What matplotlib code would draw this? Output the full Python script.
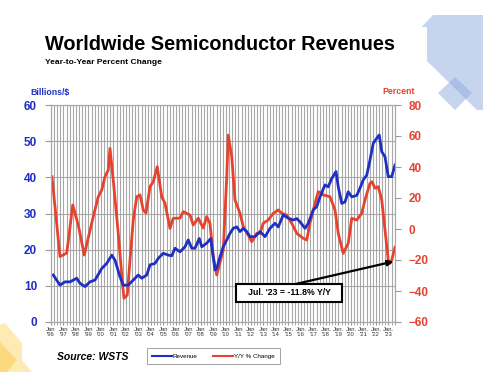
import matplotlib.pyplot as plt
import numpy as np
from matplotlib.patches import Polygon

plt.rcParams['font.family'] = ['Liberation Sans', 'DejaVu Sans']

# Revenue (left axis, billions $)
rev_t = [1996.18, 1996.72, 1997.12, 1997.52, 1998.06, 1998.32, 1998.72, 1999.12, 1999.52,
         2000.06, 2000.46, 2000.86, 2001.12, 2001.52, 2001.78, 2002.18, 2002.58, 2002.98,
         2003.26, 2003.66, 2003.92, 2004.32, 2004.58, 2004.98, 2005.38, 2005.66, 2005.92,
         2006.32, 2006.72, 2006.98, 2007.26, 2007.52, 2007.86, 2008.06, 2008.46, 2008.78,
         2009.12, 2009.26, 2009.52, 2009.78, 2010.06, 2010.32, 2010.58, 2010.86, 2011.12,
         2011.38, 2011.66, 2011.92, 2012.32, 2012.72, 2013.12, 2013.52, 2013.92, 2014.18,
         2014.58, 2014.98, 2015.38, 2015.66, 2015.92, 2016.32, 2016.58, 2016.98, 2017.26,
         2017.52, 2017.92, 2018.18, 2018.46, 2018.80, 2018.98, 2019.26, 2019.52, 2019.78,
         2020.06, 2020.46, 2020.72, 2020.98, 2021.26, 2021.52, 2021.78, 2022.06, 2022.26,
         2022.46, 2022.72, 2022.98, 2023.26, 2023.52]
rev_v = [13, 10.2, 11.1, 11.1, 12.1, 10.7, 9.8, 11.1, 11.6,
         14.8, 16.2, 18.5, 17.1, 12.5, 10.2, 10.2, 11.6, 13,
         12.1, 13, 15.8, 16.2, 17.6, 19, 18.5, 18.3, 20.4,
         19.4, 20.8, 22.7, 20.4, 20.4, 23.1, 20.8, 21.8, 23.1,
         14.4, 14.8, 18, 20.8, 22.7, 24.5, 25.9, 26.3, 25,
         25.9, 25, 23.6, 23.6, 25, 23.6, 25.9, 27.3, 26.3,
         29.6, 28.7, 28.2, 28.6, 27.7, 25.9, 27.3, 31, 31.9,
         34.6, 37.9, 37.4, 39.7, 41.6, 37.4, 32.8, 33.2, 36,
         34.6, 35, 37, 39.3, 40.6, 44.8, 49.4, 50.8, 51.7,
         47.1, 45.7, 40.2, 40.2, 43.4]

# Y/Y % change (right axis)
yoy_t = [1996.08, 1996.72, 1997.26, 1997.74, 1998.18, 1998.66, 1999.38, 1999.78, 2000.06,
         2000.32, 2000.58, 2000.72, 2000.98, 2001.38, 2001.74, 2001.84, 2002.10, 2002.32,
         2002.58, 2002.86, 2003.12, 2003.38, 2003.60, 2003.92, 2004.18, 2004.50, 2004.86,
         2005.12, 2005.52, 2005.78, 2006.32, 2006.58, 2007.12, 2007.38, 2007.78, 2008.18,
         2008.46, 2008.72, 2008.98, 2009.26, 2009.78, 2010.06, 2010.18, 2010.46, 2010.72,
         2011.12, 2011.38, 2011.78, 2012.06, 2012.46, 2012.72, 2012.98, 2013.38, 2013.78,
         2014.18, 2014.46, 2014.86, 2015.26, 2015.66, 2016.18, 2016.46, 2016.72, 2017.12,
         2017.38, 2017.78, 2018.32, 2018.72, 2018.98, 2019.38, 2019.78, 2020.06, 2020.46,
         2020.86, 2021.12, 2021.52, 2021.68, 2021.92, 2022.18, 2022.46, 2022.72, 2022.98,
         2023.12, 2023.26, 2023.52]
yoy_v = [33.7, -17.8, -15.5, 15.5, 2.6, -16.8, 8, 20.8, 25.2,
         33.8, 38, 52, 31.6, -2.8, -37, -44.7, -42.6, -20,
         5.8, 20.8, 22, 12.3, 10.3, 27.3, 30.5, 40.2, 20.8,
         16.6, 0.4, 6.9, 7, 11.2, 9, 2.6, 7, 0.6,
         8, 3.5, -17.8, -29.7, -13.5, 33.8, 60.6, 46.7, 18.7,
         10.1, 1.5, -3.9, -8.2, -2.8, -2.8, 3.7, 5.8, 10.1,
         12.3, 10.1, 9, 3.7, -2.8, -6, -7.1, 3.7, 16.6,
         24.1, 22, 20.8, 12.3, -2.8, -15.7, -9.2, 6.9, 5.8,
         10.1, 18.7, 29.5, 30.5, 26.3, 27.3, 18.7, -0.6, -20,
         -22.1, -20, -11.8]

years = list(range(1996, 2024))
year_labels = [("Jan." if y >= 2015 else "Jan") + "\n'" + str(y)[2:] for y in years]

BLUE = '#1f2fc4'
RED = '#e5432f'
W, H = 497, 380

fig = plt.figure(figsize=(W / 100, H / 100), dpi=100)

# background decorations
bg = fig.add_axes([0, 0, 1, 1], zorder=-5)
bg.set_xlim(0, W)
bg.set_ylim(H, 0)
bg.axis('off')
bg.add_patch(Polygon([(421.5, 27), (433, 15), (483, 15), (483, 110), (477, 110), (427, 61), (427, 27)],
                     closed=True, fc='#8faadf', alpha=0.5, ec='none'))
bg.add_patch(Polygon([(455, 77), (472, 93), (455, 110), (438, 93)], closed=True,
                     fc='#8faadf', alpha=0.5, ec='none'))
bg.add_patch(Polygon([(0, 325), (5, 323), (22, 343), (22, 360), (32, 372), (0, 372)],
                     closed=True, fc='#fde7a0', alpha=0.8, ec='none'))
bg.add_patch(Polygon([(0, 342), (17, 360), (7, 372), (0, 372)], closed=True,
                     fc='#fbd46a', alpha=0.7, ec='none'))

ax = fig.add_axes([51 / W, 1 - 322 / H, 344 / W, 217 / H])
ax2 = ax.twinx()

ax.set_xlim(1996, 2023.52)
ax.set_ylim(0, 60)
ax2.set_ylim(-60, 80)

# both lines on the lower axes so the grid stays underneath
ax.plot(yoy_t, yoy_v, color=RED, lw=2.0, label='Y/Y % Change', zorder=2,
        transform=ax2.transData)
ax.plot(rev_t, rev_v, color=BLUE, lw=2.0, label='Revenue', zorder=3)
ax.set_axisbelow(True)

ax.set_xticks(years)
ax.set_xticklabels(year_labels, fontsize=4.2, color='#333333', linespacing=1.1)
ax.set_xticks(np.arange(1996, 2023.6, 0.25), minor=True)
ax.grid(True, which='both', axis='x', color='#a8a8a8', lw=0.8)
ax.grid(True, which='major', axis='y', color='#a8a8a8', lw=0.8)
ax.tick_params(axis='x', which='both', length=2, color='#999999', pad=1.5)
ax.set_yticks(range(0, 61, 10))
ax.tick_params(axis='y', length=4, color='#999999', labelsize=8.5, labelcolor=BLUE, pad=6)
for lab in ax.get_yticklabels():
    lab.set_fontweight('bold')
ax2.set_yticks(range(-60, 81, 20))
ax2.tick_params(axis='y', length=4, color='#999999', labelsize=8.5, labelcolor=RED, pad=6)
for lab in ax2.get_yticklabels():
    lab.set_fontweight('bold')
for a in (ax, ax2):
    for s in a.spines.values():
        s.set_color('#a8a8a8')
        s.set_linewidth(0.8)

ax2.annotate('', xy=(2023.38, -21), xycoords='data',
             xytext=(0.703, 0.172), textcoords='axes fraction',
             arrowprops=dict(arrowstyle='-|>', color='black', lw=1.6, mutation_scale=8,
                             shrinkA=0, shrinkB=0))
ax2.text(0.692, 0.134, "   Jul. '23 = -11.8% Y/Y   ", transform=ax2.transAxes,
         ha='center', va='center', fontsize=6.3, fontweight='bold', zorder=5,
         bbox=dict(boxstyle='square,pad=0.55', fc='white', ec='black', lw=1.5))

fig.text(45 / W, 1 - 45 / H, 'Worldwide Semiconductor Revenues', fontsize=14.3,
         fontweight='bold', va='center', ha='left')
fig.text(45 / W, 1 - 63 / H, 'Year-to-Year Percent Change', fontsize=6,
         fontweight='bold', va='center', ha='left')
fig.text(30 / W, 1 - 92 / H, 'Billions/$', fontsize=6.3, fontweight='bold',
         color=BLUE, va='center', ha='left')
fig.text(415 / W, 1 - 91 / H, 'Percent', fontsize=6.3, fontweight='bold',
         color=RED, va='center', ha='right')
fig.text(57 / W, 1 - 357 / H, 'Source: WSTS', fontsize=7.5, fontweight='bold',
         style='italic', va='center', ha='left')

h, l = ax.get_legend_handles_labels()
leg = fig.legend([h[1], h[0]], [l[1], l[0]], loc='center', ncol=2,
                 bbox_to_anchor=(213.5 / W, 1 - 356 / H), fontsize=4.5,
                 frameon=True, fancybox=False, edgecolor='#777777',
                 handlelength=3.2, handletextpad=0.1, columnspacing=2.5,
                 borderpad=0.9, borderaxespad=0)
leg.get_frame().set_linewidth(0.6)
for ln in leg.get_lines():
    ln.set_linewidth(1.5)

fig.savefig('out.png', dpi=100)
